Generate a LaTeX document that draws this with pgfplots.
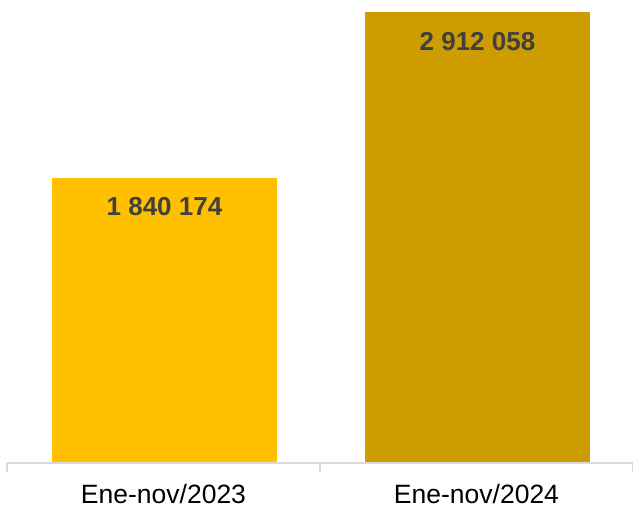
\documentclass[border=0pt]{standalone}
\usepackage{fontspec}
\setmainfont{Liberation Sans}
\usepackage{pgfplots}
\pgfplotsset{compat=1.18}
\definecolor{barA}{HTML}{FFC000}
\definecolor{barB}{HTML}{CC9C00}
\definecolor{axgrey}{HTML}{D9D9D9}
\definecolor{lblgrey}{HTML}{404040}
\begin{document}
\begin{tikzpicture}
\useasboundingbox (-7pt,-61pt) rectangle (626pt,463pt);
\begin{axis}[
  scale only axis,
  width=626pt, height=463pt,
  xmin=-0.5, xmax=1.5,
  ymin=0, ymax=2990000,
  axis lines=none,
  ybar, bar width=225pt, bar shift=1pt,
  xtick=\empty, ytick=\empty,
  clip=false,
  point meta=explicit symbolic,
  nodes near coords,
  every node near coord/.append style={anchor=center, yshift=-29pt,
    font=\fontsize{26}{30}\selectfont\bfseries, text=lblgrey},
]
\addplot[fill=barA, draw=none] coordinates {(0,1840174) [1 840 174]};
\addplot[fill=barB, draw=none] coordinates {(1,2912058) [2 912 058]};
\draw[axgrey, line width=1.2pt] (axis cs:-0.5,0) -- (axis cs:1.5,0);
\draw[axgrey, line width=1.2pt] (axis cs:-0.5,0) -- ([yshift=-9pt]axis cs:-0.5,0);
\draw[axgrey, line width=1.2pt] (axis cs:0.5,0) -- ([yshift=-9pt]axis cs:0.5,0);
\draw[axgrey, line width=1.2pt] (axis cs:1.5,0) -- ([yshift=-9pt]axis cs:1.5,0);
\node[font=\fontsize{26.5}{30}\selectfont, anchor=center] at ([yshift=-31pt]axis cs:0,0) {Ene-nov/2023};
\node[font=\fontsize{26.5}{30}\selectfont, anchor=center] at ([yshift=-31pt]axis cs:1,0) {Ene-nov/2024};
\end{axis}
\end{tikzpicture}
\end{document}
